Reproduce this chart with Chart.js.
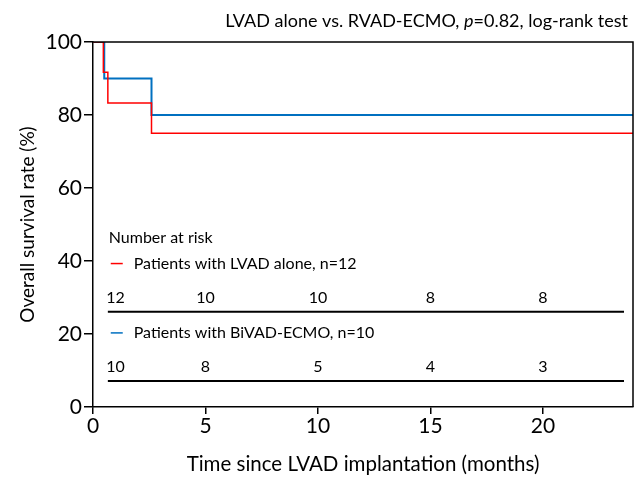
<!DOCTYPE html>
<html>
<head>
<meta charset="utf-8">
<script src="https://cdn.jsdelivr.net/npm/chart.js@4"></script>
<style>
  html, body { margin: 0; padding: 0; background: #fff; }
  #wrap { width: 638px; height: 477px; }
</style>
</head>
<body>
<div id="wrap"><canvas id="kmChart"></canvas></div>
<script>
// survival curves (months, %)
const lvadTimes = [0, 0.46, 0.66, 2.6, 24];
const lvadSurv = [100, 91.7, 83.3, 75, 75];
const ecmoTimes = [0, 0.5, 2.6, 24];
const ecmoSurv = [100, 90, 80, 80];

// number at risk table
const riskTimes = [1, 5, 10, 15, 20];
const lvadRisk = [12, 10, 10, 8, 8];
const ecmoRisk = [10, 8, 5, 4, 3];

const xTicks = [0, 5, 10, 15, 20];
const yTicks = [0, 20, 40, 60, 80, 100];

const FONT = 'Lato, "Open Sans", sans-serif';

function toPoints(xs, ys) {
    return xs.map((x, i) => ({ x: x, y: ys[i] }));
}

// frame, title and the number-at-risk table
const extras = {
    id: 'extras',
    afterDatasetsDraw(chart) {
        const ctx = chart.ctx;
        const a = chart.chartArea;
        const xs = chart.scales.x;
        const ys = chart.scales.y;
        ctx.save();

        // top + right edges of the box
        ctx.strokeStyle = '#000';
        ctx.lineWidth = 1.5;
        ctx.beginPath();
        ctx.moveTo(a.left, a.top);
        ctx.lineTo(a.right, a.top);
        ctx.lineTo(a.right, a.bottom);
        ctx.stroke();

        // title with italic p
        ctx.fillStyle = '#000';
        ctx.textBaseline = 'alphabetic';
        const parts = [
            ['LVAD alone vs. RVAD-ECMO, ', 'normal'],
            ['p', 'italic'],
            ['=0.82, log-rank test', 'normal']
        ];
        let total = 0;
        parts.forEach(p => {
            ctx.font = p[1] + ' 18px ' + FONT;
            total += ctx.measureText(p[0]).width;
        });
        let tx = 628 - total;
        parts.forEach(p => {
            ctx.font = p[1] + ' 18px ' + FONT;
            ctx.textAlign = 'left';
            ctx.fillText(p[0], tx, 27);
            tx += ctx.measureText(p[0]).width;
        });

        // table
        ctx.font = '16px ' + FONT;
        ctx.textBaseline = 'middle';
        ctx.textAlign = 'left';
        const x0 = xs.getPixelForValue(0.7);
        ctx.fillText('Number at risk', x0, ys.getPixelForValue(46.4));

        const rows = [
            { color: '#ff0000', label: 'Patients with LVAD alone, n=12', nums: lvadRisk, y: 39.3 },
            { color: '#0070c0', label: 'Patients with BiVAD-ECMO, n=10', nums: ecmoRisk, y: 20.3 }
        ];
        rows.forEach(r => {
            const ly = ys.getPixelForValue(r.y);
            ctx.strokeStyle = r.color;
            ctx.lineWidth = 1.5;
            ctx.beginPath();
            ctx.moveTo(x0 + 2, ly);
            ctx.lineTo(x0 + 14, ly);
            ctx.stroke();
            ctx.fillStyle = '#000';
            ctx.textAlign = 'left';
            ctx.fillText(r.label, x0 + 25, ly);

            ctx.textAlign = 'center';
            r.nums.forEach((n, i) => {
                ctx.fillText(String(n), xs.getPixelForValue(riskTimes[i]), ys.getPixelForValue(r.y - 9.3));
            });
            const lineY = ys.getPixelForValue(r.y - 13.2);
            ctx.strokeStyle = '#000';
            ctx.lineWidth = 2;
            ctx.beginPath();
            ctx.moveTo(xs.getPixelForValue(0.66), lineY);
            ctx.lineTo(xs.getPixelForValue(23.6), lineY);
            ctx.stroke();
        });
        ctx.restore();
    }
};

const ctx = document.getElementById('kmChart').getContext('2d');
const kmChart = new Chart(ctx, {
    type: 'line',
    data: {
        datasets: [{
            label: 'LVAD alone',
            data: toPoints(lvadTimes, lvadSurv),
            borderColor: '#ff0000',
            borderWidth: 1.5,
            stepped: true,
            pointRadius: 0,
            fill: false
        }, {
            label: 'BiVAD-ECMO',
            data: toPoints(ecmoTimes, ecmoSurv),
            borderColor: '#0070c0',
            borderWidth: 2,
            stepped: true,
            pointRadius: 0,
            fill: false
        }]
    },
    options: {
        responsive: true,
        maintainAspectRatio: false,
        animation: false,
        layout: { padding: { top: 42, right: 5 } },
        plugins: {
            legend: { display: false },
            tooltip: { enabled: false }
        },
        scales: {
            x: {
                type: 'linear',
                min: 0,
                max: 24,
                afterBuildTicks: s => { s.ticks = xTicks.map(v => ({ value: v })); },
                afterFit: s => { s.height = 70; },
                border: { color: '#000', width: 1.5 },
                grid: { drawOnChartArea: false, color: '#000', tickLength: 7, lineWidth: 1.5 },
                ticks: { color: '#000', font: { family: FONT, size: 21 }, padding: 0, maxRotation: 0 },
                title: {
                    display: true,
                    text: 'Time since LVAD implantation (months)',
                    color: '#000',
                    font: { family: FONT, size: 20.5 },
                    padding: { top: 10, bottom: 0 }
                }
            },
            y: {
                min: 0,
                max: 100,
                afterBuildTicks: s => { s.ticks = yTicks.map(v => ({ value: v })); },
                afterFit: s => { s.width = 93; },
                border: { color: '#000', width: 1.5 },
                grid: { drawOnChartArea: false, color: '#000', tickLength: 9, lineWidth: 1.5 },
                ticks: { color: '#000', font: { family: FONT, size: 21 }, padding: 2 },
                title: {
                    display: true,
                    text: 'Overall survival rate (%)',
                    color: '#000',
                    font: { family: FONT, size: 19 },
                    padding: { top: 16 }
                }
            }
        }
    },
    plugins: [extras]
});
</script>
</body>
</html>
